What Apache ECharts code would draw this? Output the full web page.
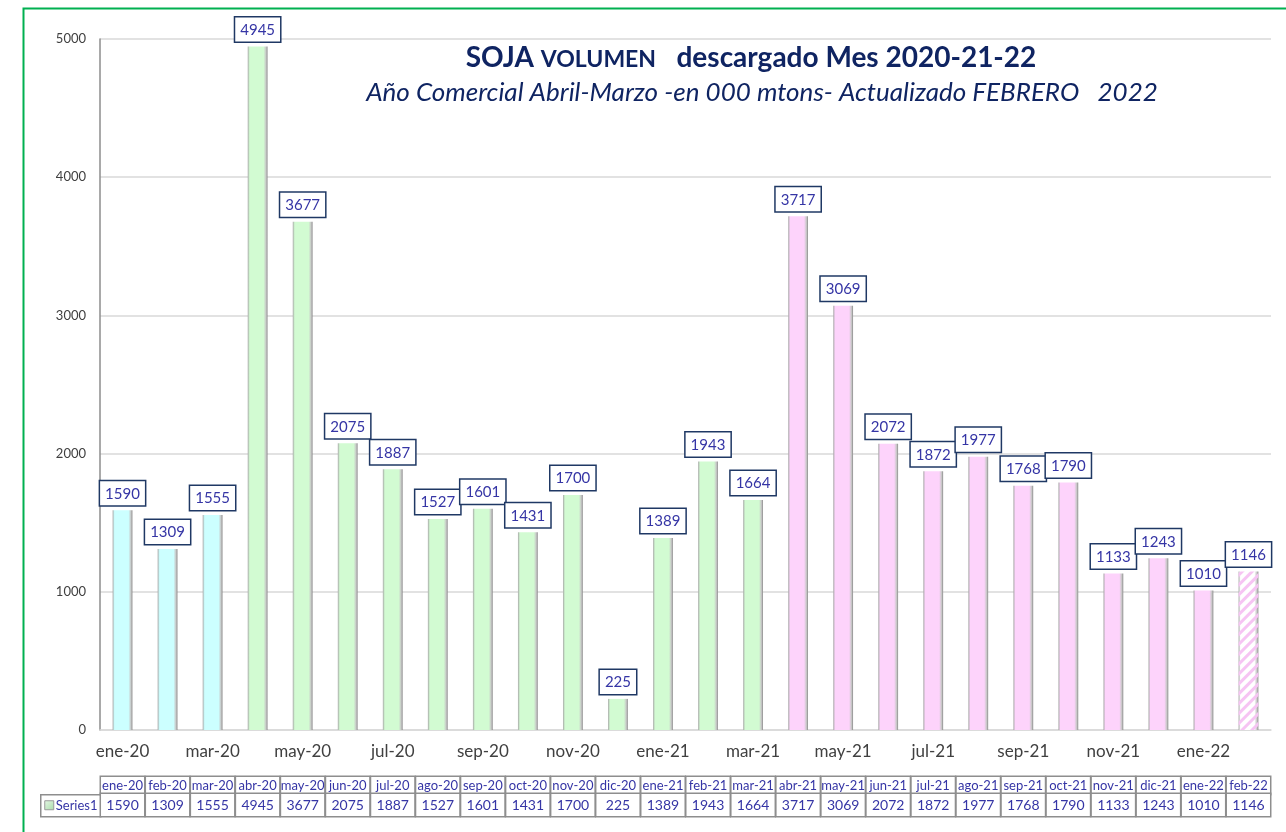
<!DOCTYPE html>
<html>
<head>
<meta charset="utf-8">
<script src="https://cdn.jsdelivr.net/npm/echarts@6/dist/echarts.min.js"></script>
<style>
html,body{margin:0;padding:0;background:#fff;}
#chart{width:1286px;height:832px;}
</style>
</head>
<body>
<div id="chart"></div>
<script>
const categories = ['ene-20','feb-20','mar-20','abr-20','may-20','jun-20','jul-20','ago-20','sep-20','oct-20','nov-20','dic-20','ene-21','feb-21','mar-21','abr-21','may-21','jun-21','jul-21','ago-21','sep-21','oct-21','nov-21','dic-21','ene-22','feb-22'];
const values = [1590,1309,1555,4945,3677,2075,1887,1527,1601,1431,1700,225,1389,1943,1664,3717,3069,2072,1872,1977,1768,1790,1133,1243,1010,1146];
// campaign group of each month: c = 2019/20 tail, g = 2020/21, p = 2021/22, h = partial (hatched)
const groups = ['c','c','c','g','g','g','g','g','g','g','g','g','g','g','g','p','p','p','p','p','p','p','p','p','p','h'];
const yTicks = [0,1000,2000,3000,4000,5000];
const seriesName = 'Series1';

const baseColors = {c:'#ccffff', g:'#d2fbd2', p:'#fdd3fb', h:'#ffffff'};
function barStyle(g){
  const c = baseColors[g];
  const st = {
    color: new echarts.graphic.LinearGradient(0,0,1,0,[
      {offset:0,color:'#a8a8a8'},
      {offset:0.1,color:c},
      {offset:0.8,color:c},
      {offset:0.92,color:'#c8c8c8'},
      {offset:1,color:'#8a8a8a'}
    ])
  };
  if (g === 'h') {
    st.decal = {symbol:'rect', dashArrayX:[1,0], dashArrayY:[3,4], rotation:-Math.PI/4, color:'#f6c4f3', symbolSize:1};
  }
  return st;
}
const barData = values.map((v,i)=>({value:v, itemStyle:barStyle(groups[i])}));

const FONT = 'Lato, "Open Sans", "Noto Sans", sans-serif';
const chart = echarts.init(document.getElementById('chart'), null, {renderer:'canvas'});
const cellBase = {
  interval:0, margin:0, width:43, align:'center', padding:0,
  borderColor:'#8e8e8e', borderWidth:1.5, backgroundColor:'#fff',
  color:'#3535a5', fontFamily:FONT, fontSize:13
};
chart.setOption({
  animation:false,
  backgroundColor:'#fff',
  title:[
    {text:'{a|SOJA }{b|VOLUMEN}{a|   descargado Mes 2020-21-22}', left:746, top:33, textAlign:'center',
     textStyle:{rich:{
       a:{fontSize:28, fontWeight:'bold', color:'#0f2462', fontFamily:FONT, lineHeight:34, verticalAlign:'bottom'},
       b:{fontSize:23, fontWeight:'bold', color:'#0f2462', fontFamily:FONT, lineHeight:34, verticalAlign:'bottom', padding:[0,0,1,0]}
     }}},
    {text:'Año Comercial Abril-Marzo -en 000 mtons- Actualizado FEBRERO   2022', left:757, top:75, textAlign:'center',
     textStyle:{fontSize:26, fontStyle:'italic', fontWeight:'normal', color:'#0f2462', fontFamily:FONT}}
  ],
  grid:{left:100, right:15, top:39, bottom:102},
  xAxis:[
    {type:'category', data:categories, position:'bottom',
     axisLine:{lineStyle:{color:'#d9d9d9', width:1.5}}, axisTick:{show:false},
     axisLabel:{interval:1, margin:13, fontSize:17, color:'#404040', fontFamily:FONT}},
    {type:'category', data:categories, position:'bottom', offset:47,
     axisLine:{show:false}, axisTick:{show:false}, splitLine:{show:false},
     axisLabel:Object.assign({}, cellBase, {height:17, lineHeight:17})},
    {type:'category', data:values.map(String), position:'bottom', offset:64,
     axisLine:{show:false}, axisTick:{show:false}, splitLine:{show:false},
     axisLabel:Object.assign({}, cellBase, {height:22, lineHeight:22, fontSize:14})}
  ],
  yAxis:{type:'value', min:yTicks[0], max:yTicks[yTicks.length-1], interval:1000,
    axisLine:{show:true, lineStyle:{color:'#8c8c8c', width:1.5}}, axisTick:{show:false},
    splitLine:{lineStyle:{color:'#d9d9d9', width:1.5}},
    axisLabel:{margin:14, fontSize:13, color:'#404040', fontFamily:FONT, formatter:(v)=>String(v)}},
  series:[{
    name:seriesName, type:'bar', data:barData, barWidth:'44%',
    label:{show:true, position:'top', distance:5, fontSize:15, color:'#3535a5', fontFamily:FONT,
      backgroundColor:'#fff', borderColor:'#1f3864', borderWidth:1.5, padding:[5,5,4,5]}
  }],
  graphic:[
    {type:'rect', left:21, top:6, shape:{width:1300, height:900}, style:{fill:null, stroke:'#00b050', lineWidth:2}, z:-10, silent:true},
    {type:'group', left:40, top:794, children:[
      {type:'rect', shape:{x:0,y:0,width:60,height:22}, style:{fill:'#fff', stroke:'#8e8e8e', lineWidth:1.5}},
      {type:'rect', shape:{x:4,y:6,width:9,height:9}, style:{fill:new echarts.graphic.LinearGradient(0,0,1,1,[{offset:0,color:'#e6f7e6'},{offset:1,color:'#a9dca9'}]), stroke:'#9a9a9a', lineWidth:1}},
      {type:'text', x:15, y:11, style:{text:seriesName, fill:'#3535a5', fontSize:13, fontFamily:FONT, verticalAlign:'middle'}}
    ]}
  ]
});
</script>
</body>
</html>
